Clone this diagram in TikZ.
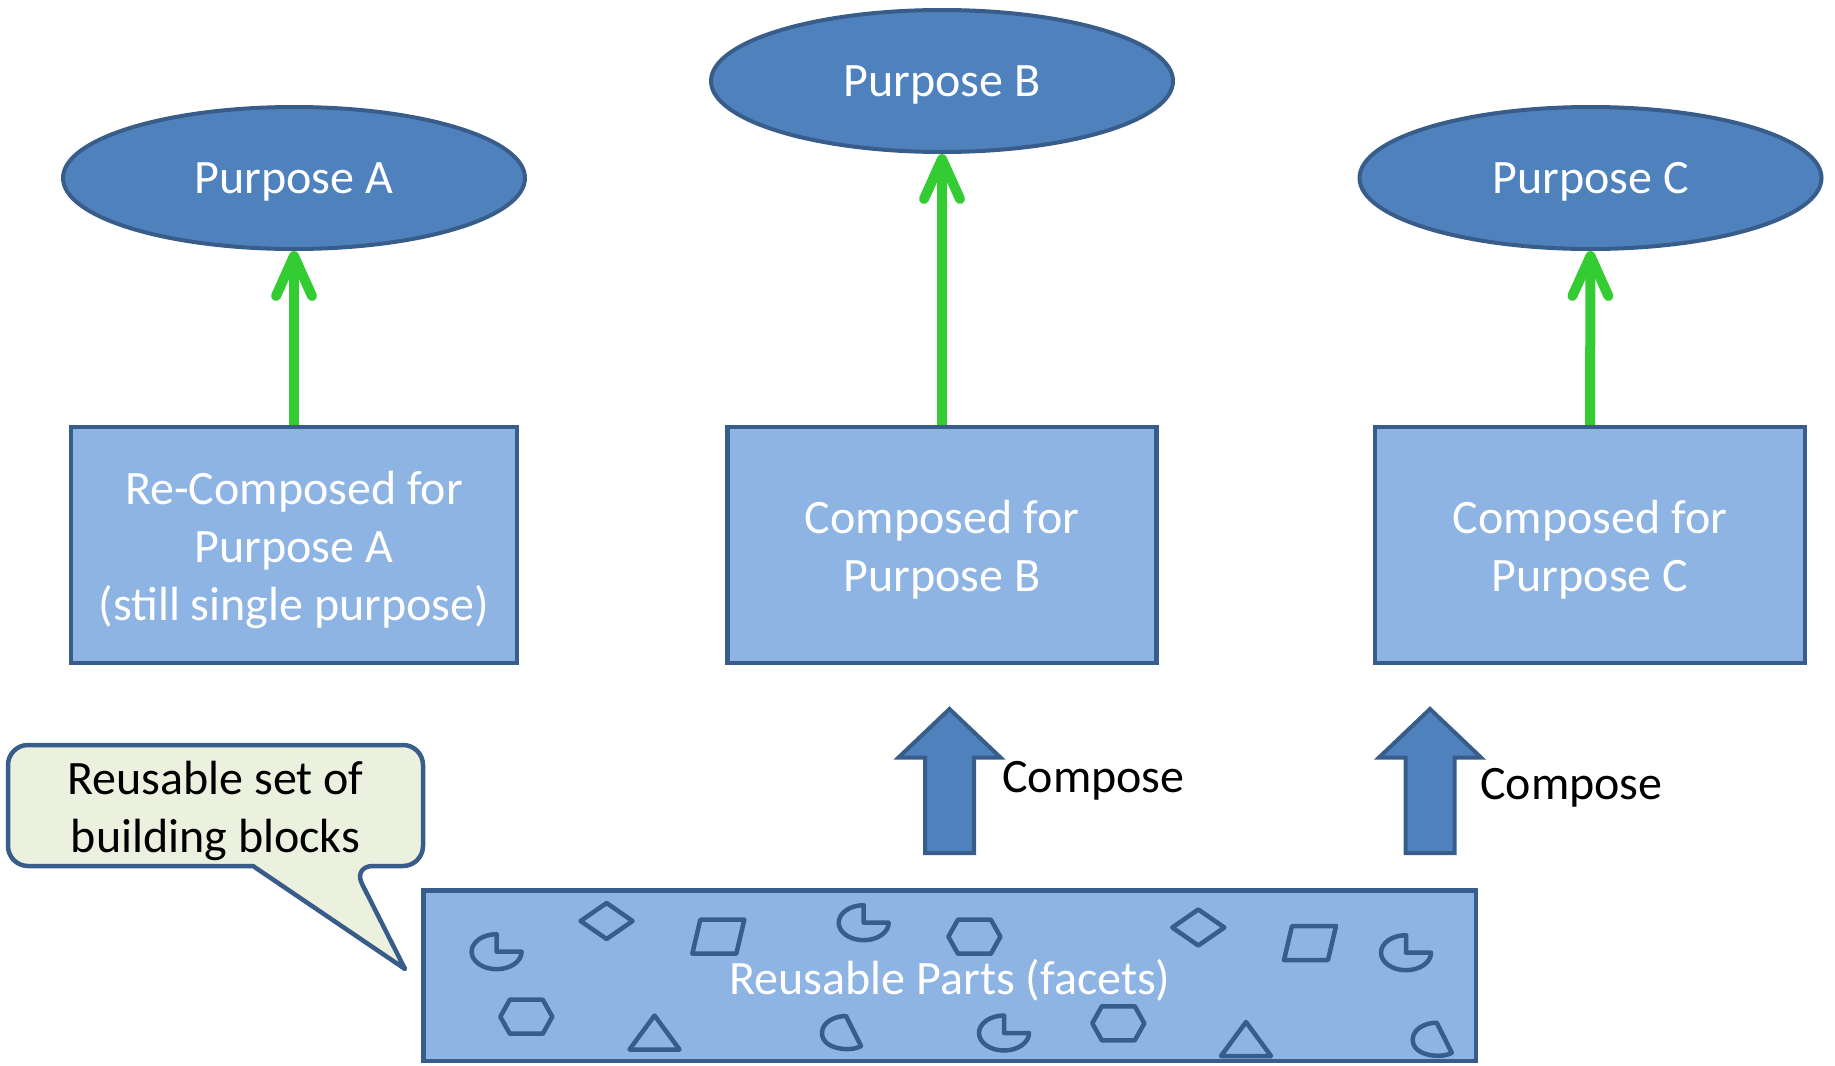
\documentclass[tikz,border=0pt]{standalone}
\usepackage{fontspec}
\setmainfont{Carlito}
\usetikzlibrary{arrows.meta,shapes.geometric,calc}

\definecolor{edgeblue}{HTML}{385D8A}
\definecolor{ovalblue}{HTML}{4F81BD}
\definecolor{boxblue}{HTML}{8EB4E3}
\definecolor{notefill}{HTML}{EBF1DE}
\definecolor{linkgreen}{HTML}{33CC33}

\begin{document}
\begin{tikzpicture}[x=1pt,y=1pt,
  every node/.style={font=\fontsize{48}{58}\selectfont, inner sep=0pt},
  purpose/.style={ellipse, draw=edgeblue, fill=ovalblue, line width=4pt,
    minimum width=462pt, minimum height=142pt, text=white,
    text height=40pt, text depth=9.4pt},
  stage/.style={rectangle, draw=edgeblue, fill=boxblue, line width=4.3pt,
    text=white, align=center, minimum height=236pt, text depth=9.4pt},
  twolines/.style={text height=103pt},
  threelines/.style={text height=160.4pt},
  link/.style={draw=linkgreen, line width=10pt,
    -{Straight Barb[length=40pt,width=36pt,round]}},
  facet/.style={draw=edgeblue, line width=4.5pt, line join=round},
  blockarrow/.style={draw=edgeblue, fill=ovalblue, line width=4pt, line join=miter},
  callout/.style={draw=edgeblue, fill=notefill, line width=4.5pt, line join=round},
  pics/pie/.style={code={
    \draw[facet] (0,17) -- (0,0) -- (25,0)
      arc[start angle=0, end angle=-270, x radius=25, y radius=17.5] -- cycle;}},
  pics/rhomb/.style={code={
    \draw[facet] (-26,0) -- (0,18) -- (26,0) -- (0,-18) -- cycle;}},
  pics/slant/.style={code={
    \draw[facet] (-18,17) -- (26,17) -- (18,-17) -- (-26,-17) -- cycle;}},
  pics/hexa/.style={code={
    \draw[facet] (-26,0) -- (-16.5,17) -- (16.5,17) -- (26,0) -- (16.5,-17) -- (-16.5,-17) -- cycle;}},
  pics/tri/.style={code={
    \draw[facet] (0,17) -- (25,-17) -- (-25,-17) -- cycle;}},
  pics/chord/.style={code={
    \draw[facet] (0,0) -- (15,-30)
      .. controls (6,-36) and (-24,-34) .. (-24,-17)
      .. controls (-24,-6) and (-11,0) .. (0,0) -- cycle;}},
  pics/composearrow/.style={code={
    \draw[blockarrow] (0,0) -- (51,-48.5) -- (24.5,-48.5) -- (24.5,-144)
      -- (-24.5,-144) -- (-24.5,-48.5) -- (-51,-48.5) -- cycle;}}
]
\useasboundingbox (0,0) rectangle (1835,-1065);

% purposes
\node[purpose] (eA) at (294,-178) {Purpose A};
\node[purpose] (eB) at (942,-81) {Purpose B};
\node[purpose] (eC) at (1590.5,-178) {Purpose C};

% composed stages
\node[stage, threelines, minimum width=446pt] (rA) at (294,-545)
  {Re-Composed for\\Purpose A\\(still single purpose)};
\node[stage, twolines, minimum width=429pt] (rB) at (942,-545) {Composed for\\Purpose B};
\node[stage, twolines, minimum width=430pt] (rC) at (1590,-545) {Composed for\\Purpose C};

% links to purposes
\draw[link] (rA.north) -- (eA.south);
\draw[link] (rB.north) -- (eB.south);
\draw[link] (rC.north) -- (eC.south);

% reusable parts bar
\node[rectangle, draw=edgeblue, fill=boxblue, line width=4.5pt,
  minimum width=1052.5pt, minimum height=170.5pt] (bar) at (949.5,-975.5) {};
\pic at (496.6,-951.7) {pie};
\pic at (863.7,-922.7) {pie};
\pic at (1406,-952.7) {pie};
\pic at (1004,-1033) {pie};
\pic at (606.6,-921) {rhomb};
\pic at (1198.3,-927.5) {rhomb};
\pic at (718.3,-936.7) {slant};
\pic at (1310,-943) {slant};
\pic at (974.4,-936.7) {hexa};
\pic at (526.3,-1016.7) {hexa};
\pic at (1118.3,-1023.3) {hexa};
\pic at (654.5,-1032.5) {tri};
\pic at (1246,-1039) {tri};
\pic at (846,-1016) {chord};
\pic at (1436.7,-1022.7) {chord};
\node[text=white, anchor=base] (parts) at (950,-994.5) {Reusable Parts (facets)};

% compose arrows
\pic at (949.5,-709) {composearrow};
\pic at (1430,-709) {composearrow};
\node[anchor=base west] (composeB) at (1002,-792) {Compose};
\node[anchor=base west] (composeC) at (1480,-799) {Compose};

% callout
\coordinate (notetip) at (405,-969);
\draw[callout] (notetip) -- (253,-866) [rounded corners=20pt] -- (8,-866) -- (8,-745)
  -- (423,-745) -- (423,-866) -- (353,-866) [sharp corners] -- cycle;
\node[align=center, text height=102.4pt, text depth=9.4pt] (note) at (215.5,-805.5)
  {Reusable set of\\building blocks};
\end{tikzpicture}
\end{document}
